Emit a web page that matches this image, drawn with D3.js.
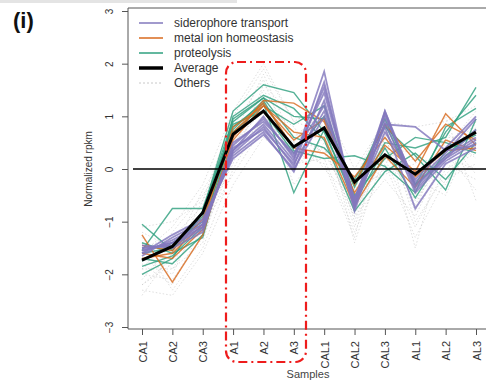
<!DOCTYPE html>
<html><head><meta charset="utf-8">
<script src="https://cdn.jsdelivr.net/npm/d3@7"></script>
<style>html,body{margin:0;padding:0;background:#fff;}svg{display:block;font-family:"Liberation Sans",Arial,sans-serif;}</style>
</head><body>
<svg id="c" width="486" height="381"></svg>
<script>
const samples = ["CA1","CA2","CA3","A1","A2","A3","CAL1","CAL2","CAL3","AL1","AL2","AL3"];
const yTicks = [-3,-2,-1,0,1,2,3];
const legendLabels = ["siderophore transport","metal ion homeostasis","proteolysis","Average","Others"];

const average = [-1.73,-1.47,-0.83,0.66,1.10,0.42,0.78,-0.25,0.27,-0.10,0.37,0.70];

const siderophore = [
 [-1.55,-1.40,-1.10,0.35,0.85,0.15,1.85,-0.75,1.10,-0.30,0.20,0.75],
 [-1.60,-1.35,-1.05,0.30,0.80,0.05,1.65,-0.70,1.05,-0.35,0.25,0.60],
 [-1.50,-1.45,-1.15,0.45,0.95,0.25,1.45,-0.60,1.00,-0.25,0.30,0.95],
 [-1.65,-1.30,-1.00,0.25,0.70,-0.05,1.30,-0.80,0.90,-0.45,0.15,0.50],
 [-1.45,-1.50,-1.20,0.50,0.90,0.30,1.20,-0.65,0.85,0.80,0.35,0.45],
 [-1.55,-1.40,-1.05,0.40,0.75,0.10,1.10,-0.55,0.80,-0.75,0.10,0.40],
 [-1.60,-1.25,-0.95,0.20,0.65,0.00,1.00,-0.70,0.70,-0.20,0.40,1.00],
 [-1.50,-1.45,-1.10,0.35,1.00,0.20,1.55,-0.60,1.10,-0.40,0.20,0.55]
];
const metalIon = [
 [-1.25,-2.15,-1.25,0.60,1.30,1.25,0.90,-0.45,0.45,-0.05,1.05,0.45],
 [-1.70,-1.60,-1.05,0.80,1.20,0.70,0.60,-0.70,0.25,-0.35,0.55,0.35],
 [-1.60,-1.70,-1.15,0.55,1.20,0.55,0.95,-0.30,0.85,0.15,0.85,0.55],
 [-1.45,-1.55,-0.95,0.70,1.25,0.40,0.30,-0.15,0.60,-0.15,0.35,0.40]
];
const proteolysis = [
 [-1.05,-1.55,-0.80,1.10,1.60,1.45,0.70,-0.55,0.50,0.40,0.60,1.55],
 [-2.00,-1.70,-0.80,0.95,1.35,1.00,0.95,-0.35,0.85,-0.30,0.70,1.40],
 [-1.55,-0.75,-0.75,0.80,1.25,-0.45,0.75,-0.65,0.40,-0.55,0.35,0.65],
 [-1.75,-1.40,-1.00,0.90,1.35,0.60,0.40,-0.20,0.80,0.25,-0.40,0.95],
 [-1.85,-1.65,-1.10,0.70,1.20,0.85,1.20,-0.50,0.20,0.60,0.50,0.30],
 [-1.60,-1.50,-0.90,0.85,1.10,0.30,1.00,-0.30,0.95,-0.30,0.25,0.75],
 [-1.70,-1.80,-1.25,1.00,1.40,1.15,0.55,-0.80,-0.05,0.30,-0.20,0.50],
 [-1.40,-1.60,-1.30,0.75,1.30,0.35,0.20,0.25,0.05,-0.45,0.80,1.15]
];
const others = [
 [-2.3,-2.4,-1.6,-0.3,0.6,0.1,0.2,-1.2,0.1,-1.3,-0.2,0.1],
 [-1.1,-1.0,-0.6,1.0,1.9,0.9,1.2,0.0,0.9,0.8,0.9,1.2],
 [-2.0,-2.1,-1.3,0.2,1.0,0.5,0.4,-0.9,-0.2,-0.9,0.3,-0.4],
 [-1.9,-1.2,-0.5,0.4,1.5,0.6,0.6,-0.4,0.4,0.3,-0.3,0.9],
 [-2.2,-1.8,-0.9,0.8,1.7,0.2,0.9,-1.4,0.3,-0.6,0.2,0.0],
 [-1.3,-1.9,-1.4,0.6,1.2,0.8,0.0,-0.6,0.7,-1.5,0.6,0.6],
 [-1.5,-1.3,-0.7,0.9,1.4,-0.3,0.5,-0.3,-0.1,0.1,1.0,-0.6],
 [-1.8,-2.2,-1.1,-0.1,0.8,0.4,1.0,-1.0,0.6,-0.2,-0.5,0.8],
 [-2.4,-1.6,-0.4,0.5,1.1,0.7,0.3,-0.7,0.2,-1.1,0.0,0.3],
 [-1.2,-1.5,-1.0,0.1,1.6,1.0,0.8,-0.2,1.0,-0.4,0.4,1.1],
 [-1.7,-2.0,-0.8,0.7,1.3,0.0,0.6,-1.1,0.5,-0.8,0.7,0.2],
 [-2.1,-1.4,-1.2,0.3,0.9,0.6,1.1,-0.5,0.0,0.2,0.1,-0.2],
 [-1.6,-1.1,-0.3,1.1,2.0,0.9,0.7,-0.8,0.3,-0.5,0.5,0.5],
 [-1.4,-2.3,-1.5,0.0,1.0,0.3,0.1,-1.3,0.8,-1.0,-0.1,0.4],
 [-2.2,-1.7,-0.6,0.6,1.8,0.5,1.3,-0.6,0.2,-0.3,0.2,0.9],
 [-1.9,-1.9,-1.0,0.4,1.2,0.2,0.4,-0.9,0.6,-0.7,0.6,-0.1]
];

const colors = {purple:"#8278bd", orange:"#d86a1e", green:"#2fa07f"};

const svg = d3.select("#c");
const box = {left:128, top:8, right:492, bottom:329};
const x = d3.scalePoint().domain(samples).range([142, 476]);
const y = d3.scaleLinear().domain([-3,3]).range([327, 11]);
const line = d3.line().x((d,i)=>x(samples[i])).y(d=>y(d));

// faint top strip (image artifact)
svg.append("rect").attr("x",0).attr("y",0).attr("width",237).attr("height",3).attr("fill","#e4e4e4");

// panel label
svg.append("text").attr("x",13).attr("y",28).attr("font-size",22).attr("font-weight","bold")
  .attr("font-family","'Liberation Sans',Arial,sans-serif").attr("fill","#111").text("(i)");

const plot = svg.append("g");
// others
plot.selectAll(".oth").data(others).enter().append("path")
  .attr("d",line).attr("fill","none").attr("stroke","#c4c4c4").attr("stroke-width",1)
  .attr("stroke-dasharray","1.5,2").attr("opacity",0.55);
// groups
function drawGroup(data, col, w){
  plot.append("g").selectAll("path").data(data).enter().append("path")
    .attr("d",line).attr("fill","none").attr("stroke",col).attr("stroke-width",w)
    .attr("stroke-opacity",0.82).attr("stroke-linejoin","miter");
}
drawGroup(proteolysis, colors.green, 1.4);
drawGroup(metalIon, colors.orange, 1.4);
drawGroup(siderophore, colors.purple, 1.8);
// average
plot.append("path").datum(average).attr("d",line).attr("fill","none")
  .attr("stroke","#000").attr("stroke-width",3).attr("stroke-linejoin","miter");
// zero line
plot.append("line").attr("x1",133).attr("x2",box.right).attr("y1",y(0)).attr("y2",y(0))
  .attr("stroke","#000").attr("stroke-width",1.3);

// box
svg.append("path").attr("d",`M${box.right},${box.top}H${box.left}V${box.bottom}H${box.right}`)
  .attr("fill","none").attr("stroke","#555").attr("stroke-width",1);

// y axis
const ya = svg.append("g").attr("transform",`translate(${box.left},0)`)
  .call(d3.axisLeft(y).tickValues(yTicks).tickSize(6).tickFormat(d3.format("d")));
ya.select(".domain").remove();
ya.selectAll(".tick line").attr("stroke","#555");
ya.selectAll(".tick text").attr("font-size",10).attr("fill","#333")
  .attr("font-family","'Liberation Sans',Arial,sans-serif")
  .attr("text-anchor","middle").attr("x",0).attr("dy",0)
  .attr("transform","translate(-19,0) rotate(-90)").attr("dominant-baseline","central");

// x axis
const xa = svg.append("g").attr("transform",`translate(0,${box.bottom})`)
  .call(d3.axisBottom(x).tickSize(6));
xa.select(".domain").remove();
xa.selectAll(".tick line").attr("stroke","#555");
xa.selectAll(".tick text").attr("font-size",11).attr("fill","#333")
  .attr("font-family","'Liberation Sans',Arial,sans-serif")
  .attr("text-anchor","end").attr("y",0).attr("dy",0).attr("x",0)
  .attr("transform","translate(0,12) rotate(-90)").attr("dominant-baseline","central");

// axis titles
svg.append("text").attr("transform",`translate(88,${y(0)}) rotate(-90)`).attr("text-anchor","middle")
  .attr("dominant-baseline","central").attr("font-size",10).attr("fill","#333").text("Normalized rpkm");
svg.append("text").attr("x",308).attr("y",378).attr("text-anchor","middle")
  .attr("font-size",11).attr("fill","#444").text("Samples");

// red highlight box
svg.append("rect").attr("x",226).attr("y",62).attr("width",80).attr("height",300)
  .attr("rx",11).attr("ry",11).attr("fill","none").attr("stroke","#ee1c1c")
  .attr("stroke-width",2.2).attr("stroke-dasharray","9,4,2,4");

// legend
const legendStyles = [
  {c:colors.purple,w:1.5,d:null},
  {c:colors.orange,w:1.5,d:null},
  {c:colors.green,w:1.5,d:null},
  {c:"#000",w:3.5,d:null},
  {c:"#c8c8c8",w:1,d:"2,2"}
];
const lg = svg.append("g");
legendLabels.forEach((lab,i)=>{
  const yy = 23 + i*15;
  const s = legendStyles[i];
  const l = lg.append("line").attr("x1",139).attr("x2",163).attr("y1",yy).attr("y2",yy)
    .attr("stroke",s.c).attr("stroke-width",s.w);
  if(s.d) l.attr("stroke-dasharray",s.d);
  lg.append("text").attr("x",174).attr("y",yy).attr("dominant-baseline","central")
    .attr("font-size",12).attr("fill","#333").text(lab);
});
</script>
</body></html>
